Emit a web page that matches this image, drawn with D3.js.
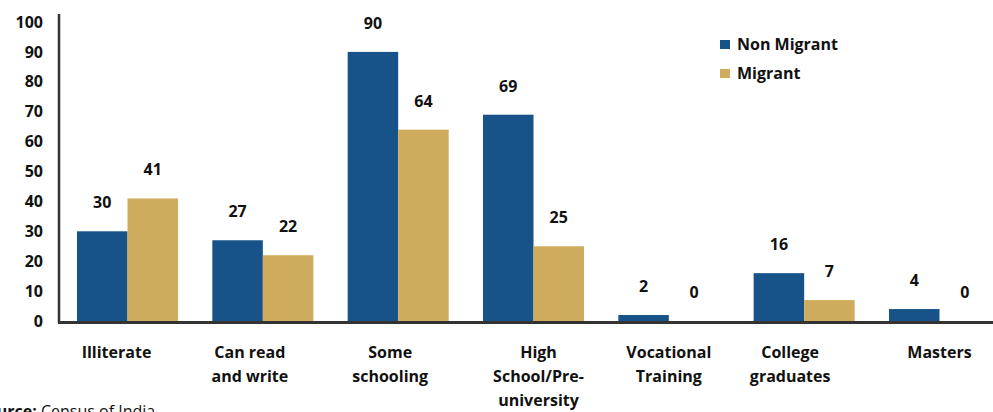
<!DOCTYPE html>
<html><head><meta charset="utf-8">
<script src="https://cdn.jsdelivr.net/npm/d3@7"></script>
<style>body{margin:0;background:#fff;} svg{display:block;} text{font-family:"Open Sans","Noto Sans",sans-serif;}</style>
</head><body>
<svg id="c" width="993" height="412"></svg>
<script>
const categories = [["Illiterate"],["Can read","and write"],["Some","schooling"],["High","School/Pre-","university"],["Vocational","Training"],["College","graduates"],["Masters"]];
const nonMigrant = [30, 27, 90, 69, 2, 16, 4];
const migrant = [41, 22, 64, 25, 0, 7, 0];
const seriesNames = ["Non Migrant", "Migrant"];
const colors = ["#175389", "#cfac5d"];
const yTicks = [0,10,20,30,40,50,60,70,80,90,100];
// horizontal nudges of the category labels (layout, not data)
const labelShift = [-11, -13, -8, 5, 0, -14, 0];

const svg = d3.select("#c");
const x = d3.scaleBand().domain(d3.range(categories.length)).range([59, 1008]).paddingInner(0.2535).paddingOuter(0.133);
const xs = d3.scaleBand().domain([0,1]).range([0, x.bandwidth()]);
const y = d3.scaleLinear().domain([0,100]).range([321, 22]);

const series = [nonMigrant, migrant];
series.forEach((vals, si) => {
  const g = svg.append("g");
  g.selectAll("rect").data(vals).join("rect")
    .attr("x", (d,i) => x(i) + xs(si))
    .attr("width", xs.bandwidth())
    .attr("y", d => y(d))
    .attr("height", d => y(0) - y(d))
    .attr("fill", colors[si]);
  g.selectAll("text").data(vals).join("text")
    .attr("x", (d,i) => x(i) + xs(si) + xs.bandwidth()/2)
    .attr("y", d => y(d) - 23)
    .attr("text-anchor", "middle")
    .attr("font-size", 16).attr("font-weight", 700).attr("fill", "#111")
    .text(d => d);
});

// axes
const yAxis = d3.axisLeft(y).tickValues(yTicks).tickSize(0).tickPadding(16);
const ya = svg.append("g").attr("transform", "translate(59,0)").call(yAxis);
ya.select(".domain").remove();
ya.selectAll("text").attr("font-size", 16).attr("font-weight", 700).attr("fill", "#111").attr("font-family","'Open Sans',sans-serif");
svg.append("line").attr("x1", 59).attr("x2", 59).attr("y1", 14).attr("y2", 323).attr("stroke", "#333").attr("stroke-width", 2.5);
svg.append("line").attr("x1", 58).attr("x2", 993).attr("y1", 322.5).attr("y2", 322.5).attr("stroke", "#333").attr("stroke-width", 3);

// category labels
const cl = svg.append("g");
categories.forEach((lines, i) => {
  const cx = x(i) + x.bandwidth()/2 + labelShift[i];
  const t = cl.append("text").attr("x", cx).attr("y", 358)
    .attr("text-anchor", "middle").attr("font-size", 16).attr("font-weight", 700).attr("fill", "#111");
  lines.forEach((ln, j) => t.append("tspan").attr("x", cx).attr("dy", j ? 24 : 0).text(ln));
});

// legend
const lg = svg.append("g");
seriesNames.forEach((n, i) => {
  lg.append("rect").attr("x", 720).attr("y", 40 + i*29).attr("width", 10).attr("height", 9).attr("fill", colors[i]);
  lg.append("text").attr("x", 737).attr("y", 50 + i*29).attr("font-size", 16).attr("font-weight", 700).attr("fill", "#111").text(n);
});

// source
const src = svg.append("text").attr("x", -22).attr("y", 417).attr("font-size", 16).attr("fill", "#111");
src.append("tspan").attr("font-weight", 700).text("Source:");
src.append("tspan").text(" Census of India");
</script>
</body></html>
